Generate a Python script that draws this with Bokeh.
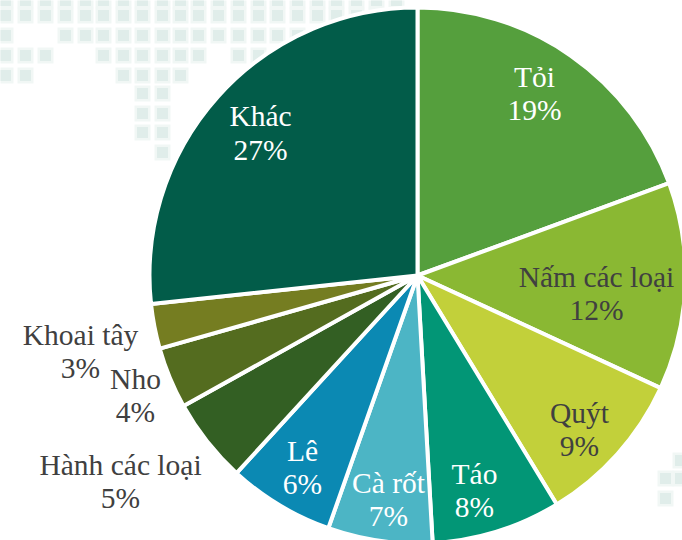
from math import pi
from bokeh.plotting import figure
from bokeh.models import Range1d, ColumnDataSource
from bokeh.core.properties import value
from bokeh.embed import file_html
from bokeh.resources import INLINE

# Chart data
names = ["Tỏi", "Nấm các loại", "Quýt", "Táo", "Cà rốt", "Lê", "Hành các loại", "Nho", "Khoai tây", "Khác"]
shares = [19.4, 12.5, 9.4, 7.8, 6.3, 6.4, 5.1, 3.7, 2.7, 26.7]
pct_labels = ["19%", "12%", "9%", "8%", "7%", "6%", "5%", "4%", "3%", "27%"]
colors = ["#559F3D", "#8AB833", "#C2D03A", "#029676", "#4CB5C5", "#0B89B3", "#335F23", "#546C1F", "#757D21", "#025C49"]
label_colors = ["#FFFFFF", "#404040", "#404040", "#FFFFFF", "#FFFFFF", "#FFFFFF", "#404040", "#404040", "#404040", "#FFFFFF"]

# Label centres, page pixels
label_x = [534, 596, 579, 474, 388, 302, 120, 135, 80, 260]
name_y = [76, 276, 412, 473, 482, 450, 464, 378, 334, 115]
pct_y = [109, 309, 445, 506, 515, 483, 497, 411, 367, 149]

# Faint map-dot background, page pixels
dot_columns = [5, 25, 45, 65, 85, 103, 123, 142, 162, 180, 198, 218, 238, 258, 277, 297, 317, 336, 356, 376, 396]
dot_rows = [
    (0, dot_columns),
    (15, dot_columns),
    (35, [5, 65, 85, 103, 123, 142, 162, 180, 198, 218, 238, 258, 277, 297]),
    (55, [5, 25, 45, 103, 123, 142, 162, 180, 198, 238, 258]),
    (75, [5, 25, 123, 142, 162, 180]),
    (93, [142, 162]),
    (113, [142, 162]),
    (132, [142, 162]),
    (152, [162]),
    (460, [680]),
    (478, [665, 680]),
    (498, [665]),
]

CX, CY, R = 417, 275, 268
W, H = 682, 540

p = figure(width=W, height=H, output_backend="svg", toolbar_location=None,
           x_range=Range1d(0 - CX, 682 - CX), y_range=Range1d(CY - 540, CY - 0),
           min_border=0, outline_line_color=None, background_fill_color="#FFFFFF")
p.axis.visible = False
p.grid.visible = False

dx, dy = [], []
for row_y, cols in dot_rows:
    for c in cols:
        dx.append(c - CX)
        dy.append(CY - row_y)
p.scatter(dx, dy, marker="square", size=16, fill_color="#F1F7F5", line_color=None)
p.scatter(dx, dy, marker="square", size=11, fill_color="#E0EDEA", line_color=None)

# Clockwise from 12 o'clock
starts, ends, acc = [], [], 0.0
total = sum(shares)
for s in shares:
    a0 = pi / 2 - acc / total * 2 * pi
    acc += s
    a1 = pi / 2 - acc / total * 2 * pi
    starts.append(a1)
    ends.append(a0)

src = ColumnDataSource(dict(start=starts, end=ends, color=colors))
p.wedge(x=0, y=0, radius=R, start_angle="start", end_angle="end", direction="anticlock",
        fill_color="color", line_color="#FFFFFF", line_width=4, source=src)

for i in range(len(names)):
    for txt, y in ((names[i], name_y[i]), (pct_labels[i], pct_y[i])):
        p.text([label_x[i] - CX], [CY - y], text=[txt], text_font=value("Liberation Serif"),
               text_font_size="29.5px", text_color=label_colors[i],
               text_align="center", text_baseline="middle")

open("out.html", "w").write(file_html(p, INLINE))
